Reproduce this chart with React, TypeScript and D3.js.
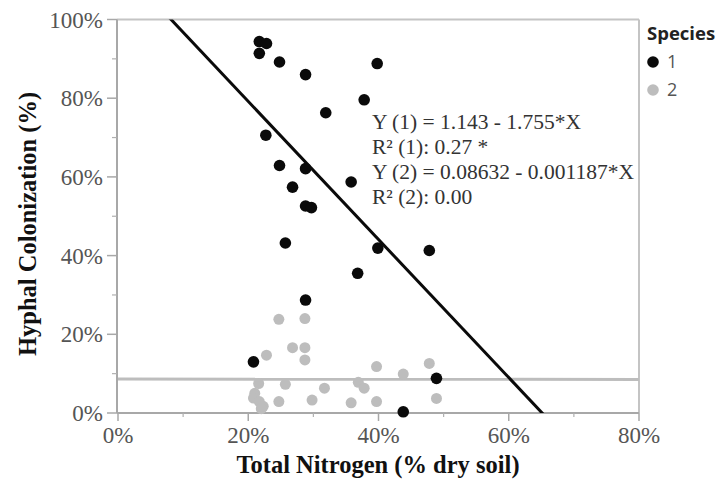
import React from "react";
import * as d3 from "d3";

// Species 1 (Total Nitrogen fraction, Hyphal Colonization fraction)
const species1N = [0.217, 0.228, 0.217, 0.248, 0.288, 0.398, 0.378, 0.319, 0.227, 0.248, 0.288, 0.268, 0.288, 0.297, 0.358, 0.257, 0.399, 0.478, 0.368, 0.288, 0.208, 0.489, 0.438];
const species1Col = [0.944, 0.939, 0.914, 0.892, 0.86, 0.888, 0.796, 0.763, 0.706, 0.629, 0.621, 0.574, 0.526, 0.522, 0.587, 0.432, 0.419, 0.413, 0.355, 0.287, 0.13, 0.088, 0.003];

const species2N = [0.247, 0.287, 0.268, 0.287, 0.287, 0.228, 0.397, 0.216, 0.257, 0.317, 0.369, 0.378, 0.21, 0.208, 0.217, 0.223, 0.22, 0.247, 0.298, 0.358, 0.397, 0.478, 0.438, 0.489];
const species2Col = [0.238, 0.24, 0.166, 0.166, 0.135, 0.147, 0.118, 0.075, 0.073, 0.063, 0.078, 0.063, 0.05, 0.038, 0.029, 0.017, 0.011, 0.029, 0.033, 0.026, 0.029, 0.126, 0.099, 0.037];

// Fit coefficients [intercept, slope]
const fit1 = [1.143, -1.755];
const fit2 = [0.08632, -0.001187];

const xTicks = [0, 0.2, 0.4, 0.6, 0.8];
const xMinorTicks = [0.1, 0.3, 0.5, 0.7];
const yTicks = [0, 0.2, 0.4, 0.6, 0.8, 1.0];
const yMinorTicks = [0.1, 0.3, 0.5, 0.7, 0.9];

const equationLines = [
  "Y (1) = 1.143 - 1.755*X",
  "R² (1): 0.27 *",
  "Y (2) = 0.08632 - 0.001187*X",
  "R² (2): 0.00",
];

const legendLabels = ["1", "2"];

const COLOR1 = "#0a0a0a";
const COLOR2 = "#bdbdbd";

export default function App() {
  const W = 717;
  const H = 483;
  const left = 117;
  const right = 639;
  const top = 19.5;
  const bottom = 413;
  const x = d3.scaleLinear().domain([0, 0.8]).range([118, 639]);
  const y = d3.scaleLinear().domain([0, 1]).range([bottom, top]);
  const fmt = d3.format(".0%");
  const serif = "'Liberation Serif', 'Times New Roman', serif";
  const sans = "'Open Sans', 'DejaVu Sans', sans-serif";

  const fitPts = (f: number[]) => {
    const xs = x.domain();
    return xs.map((v) => [x(v), y(f[0] + f[1] * v)] as [number, number]);
  };
  const path = d3.line();

  return (
    <svg
      width={W}
      height={H}
      style={{ position: "absolute", left: 0, top: 0, background: "#fff" }}
    >
      <defs>
        <clipPath id="plotClip">
          <rect x={left} y={top} width={right - left} height={bottom - top} />
        </clipPath>
      </defs>
      {/* frame */}
      <line x1={left} x2={right} y1={top} y2={top} stroke="#c4c4c4" strokeWidth={2} />
      <line x1={right} x2={right} y1={top} y2={bottom} stroke="#c4c4c4" strokeWidth={2} />
      <line x1={left} x2={left} y1={top} y2={bottom} stroke="#a8a8a8" strokeWidth={2} />
      <line x1={left} x2={right} y1={bottom} y2={bottom} stroke="#a8a8a8" strokeWidth={2} />

      {/* y ticks */}
      {yTicks.map((t) => (
        <g key={"y" + t}>
          <line x1={left - 10} x2={left} y1={y(t)} y2={y(t)} stroke="#a8a8a8" strokeWidth={1.5} />
          <text
            x={left - 14}
            y={y(t)}
            dy="0.35em"
            textAnchor="end"
            fontFamily={serif}
            fontSize={23}
            fill="#555"
          >
            {fmt(t)}
          </text>
        </g>
      ))}
      {yMinorTicks.map((t) => (
        <line key={"ym" + t} x1={left - 5} x2={left} y1={y(t)} y2={y(t)} stroke="#b0b0b0" strokeWidth={1.2} />
      ))}
      {/* x ticks */}
      {xTicks.map((t) => (
        <g key={"x" + t}>
          <line x1={x(t)} x2={x(t)} y1={bottom} y2={bottom + 8} stroke="#a8a8a8" strokeWidth={1.5} />
          <text
            x={x(t)}
            y={443}
            textAnchor="middle"
            fontFamily={serif}
            fontSize={23}
            fill="#555"
          >
            {fmt(t)}
          </text>
        </g>
      ))}
      {xMinorTicks.map((t) => (
        <line key={"xm" + t} x1={x(t)} x2={x(t)} y1={bottom} y2={bottom + 4} stroke="#b0b0b0" strokeWidth={1.2} />
      ))}

      {/* fit lines */}
      <g clipPath="url(#plotClip)">
        <path d={path(fitPts(fit2)) || ""} stroke={COLOR2} strokeWidth={3} fill="none" />
        <path d={path(fitPts(fit1)) || ""} stroke={COLOR1} strokeWidth={3} fill="none" />
      </g>

      {/* points */}
      {species2N.map((n, i) => (
        <circle key={"s2" + i} cx={x(n)} cy={y(species2Col[i])} r={5.5} fill={COLOR2} />
      ))}
      {species1N.map((n, i) => (
        <circle key={"s1" + i} cx={x(n)} cy={y(species1Col[i])} r={5.8} fill={COLOR1} />
      ))}

      {/* equation text */}
      {equationLines.map((l, i) => (
        <text
          key={"eq" + i}
          x={372}
          y={129 + i * 25}
          fontFamily={serif}
          fontSize={21.5}
          fill="#333"
        >
          {l}
        </text>
      ))}

      {/* axis titles */}
      <text
        x={378}
        y={473}
        textAnchor="middle"
        fontFamily={serif}
        fontWeight="bold"
        fontSize={24.5}
        fill="#111"
      >
        Total Nitrogen (% dry soil)
      </text>
      <text
        transform={`translate(36, ${224}) rotate(-90)`}
        textAnchor="middle"
        fontFamily={serif}
        fontWeight="bold"
        fontSize={24.5}
        fill="#111"
      >
        Hyphal Colonization (%)
      </text>

      {/* legend */}
      <text x={647} y={40} fontFamily={sans} fontWeight="bold" fontSize={18.5} fill="#222">
        Species
      </text>
      {legendLabels.map((l, i) => (
        <g key={"lg" + i}>
          <circle cx={653} cy={62 + i * 28} r={5.8} fill={i === 0 ? COLOR1 : COLOR2} />
          <text x={667} y={68 + i * 28} fontFamily={sans} fontSize={18} fill="#555">
            {l}
          </text>
        </g>
      ))}
    </svg>
  );
}
